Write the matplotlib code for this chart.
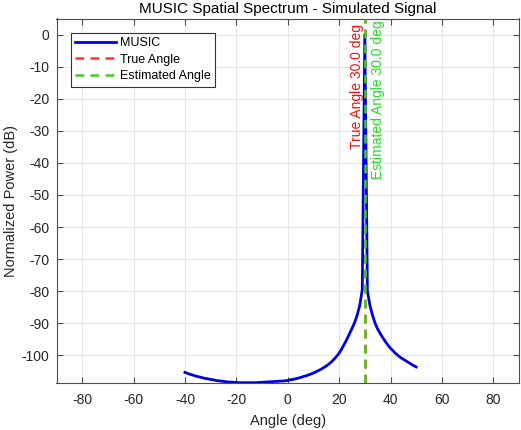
import numpy as np
import matplotlib
matplotlib.use("Agg")
import matplotlib.pyplot as plt

plt.rcParams['font.family'] = ['Liberation Sans', 'DejaVu Sans']
plt.rcParams['axes.unicode_minus'] = False

angles = list(range(-40, 51))
power_db = [
    -105.3, -105.6, -105.9, -106.1, -106.4, -106.6, -106.8, -107.0, -107.2, -107.3,  # -40..-31
    -107.5, -107.6, -107.8, -107.9, -108.0, -108.1, -108.2, -108.3, -108.3, -108.4,  # -30..-21
    -108.4, -108.5, -108.5, -108.5, -108.5, -108.5, -108.5, -108.5, -108.5, -108.4,  # -20..-11
    -108.4, -108.3, -108.3, -108.2, -108.2, -108.1, -108.1, -108.0, -108.0, -107.9,  # -10..-1
    -107.8, -107.6, -107.5, -107.3, -107.1, -106.9, -106.6, -106.4, -106.1, -105.8,  # 0..9
    -105.5, -105.1, -104.7, -104.3, -103.8, -103.3, -102.7, -102.0, -101.2, -100.3,  # 10..19
    -99.3, -98.0, -96.5, -95.0, -93.3, -91.6, -89.8, -87.5, -84.5, -79.5,            # 20..29
    0.0,                                                                              # 30
    -80.0, -84.5, -87.5, -90.0, -91.8, -93.2, -94.5, -95.7, -96.8, -97.8,            # 31..40
    -98.6, -99.4, -100.1, -100.7, -101.2, -101.7, -102.2, -102.7, -103.2, -103.6,    # 41..50
]
true_angle = 30.0
est_angle = 30.0

xticks = [-80, -60, -40, -20, 0, 20, 40, 60, 80]
yticks = [-100, -90, -80, -70, -60, -50, -40, -30, -20, -10, 0]

W, H = 521, 430
fig = plt.figure(figsize=(W / 100, H / 100), dpi=100)
ax = fig.add_axes([56.5 / W, 1 - 383 / H, (519 - 56.5) / W, (383 - 18.5) / H])

tc = '#262626'
ax.plot(angles, power_db, color='#0000e0', lw=2.0, label='MUSIC', zorder=3)
ax.axvline(true_angle, color='#ff3333', ls=(0, (3.5, 2.5)), lw=1.8, label='True Angle', zorder=2)
ax.axvline(est_angle, color='#44cc22', ls=(0, (3.5, 2.5)), lw=1.8, label='Estimated Angle', zorder=4)

ax.text(true_angle - 0.5, 3.3, f'True Angle {true_angle:.1f} deg', rotation=90,
        color='#ee1111', fontsize=10, ha='right', va='top')
ax.text(est_angle + 2.5, 4.3, f'Estimated Angle {est_angle:.1f} deg', rotation=90,
        color='#22dd22', fontsize=10, ha='left', va='top')

ax.set_xlim(-90, 90)
ax.set_ylim(-108.6, 5)
ax.set_xticks(xticks)
ax.set_yticks(yticks)
ax.tick_params(direction='in', length=4, width=0.8, top=True, right=True,
               colors='#4d4d4d', labelcolor=tc, labelsize=10)
ax.tick_params(axis='x', pad=7)
ax.tick_params(axis='y', pad=5)
ax.grid(True, color='#e6e6e6', lw=0.8)
ax.set_axisbelow(True)
for s in ax.spines.values():
    s.set_color('#4d4d4d')
    s.set_linewidth(0.8)

ax.set_title('MUSIC Spatial Spectrum - Simulated Signal', fontsize=11, color='black', pad=3.7)
ax.set_xlabel('Angle (deg)', fontsize=10.5, color=tc, labelpad=5)
ax.set_ylabel('Normalized Power (dB)', fontsize=10.5, color=tc, labelpad=2.5)

leg = ax.legend(loc='upper left', bbox_to_anchor=(70.7 / W, 1 - 33 / H),
                bbox_transform=fig.transFigure, fontsize=9,
                frameon=True, fancybox=False, edgecolor='#333333', framealpha=1,
                handlelength=3.3, borderpad=0.35, labelspacing=0.35, handletextpad=0.3,
                borderaxespad=0)
leg.get_frame().set_linewidth(0.8)

fig.savefig('out.png', dpi=100)
